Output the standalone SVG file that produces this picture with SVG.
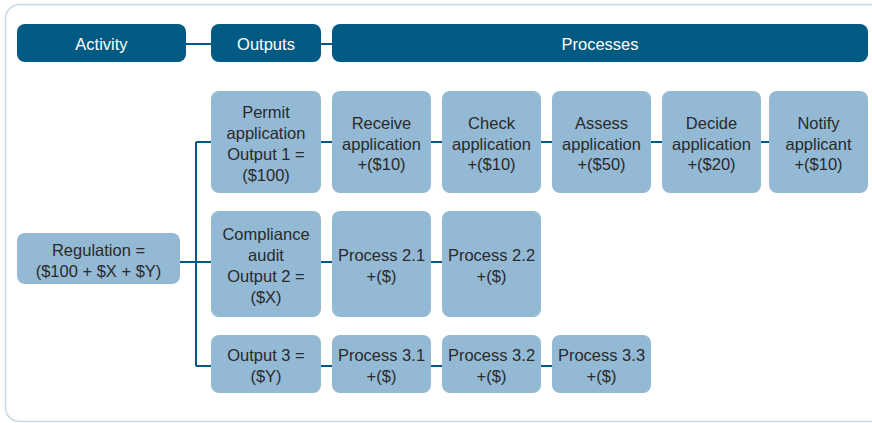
<svg xmlns="http://www.w3.org/2000/svg" width="872" height="423" viewBox="0 0 872 423">
<style>
.hdr{fill:#005a82}
.box{fill:#93b9d4}
.ht{font-family:"Liberation Sans",Arial,sans-serif;font-size:16.5px;fill:#ffffff;text-anchor:middle}
.t{font-family:"Liberation Sans",Arial,sans-serif;font-size:16.5px;fill:#2a2a2a;text-anchor:middle}
.ln{stroke:#005a82;stroke-width:2;fill:none}
</style>
<rect x="5.5" y="4.5" width="890" height="417" rx="14" fill="#ffffff" stroke="#c8dbea" stroke-width="1.5"/>
<g id="connectors">
<path class="ln" d="M186 44H211M321 44H332"/>
<path class="ln" d="M180 262H211M196 142V366M196 142H211M196 366H211"/>
<path class="ln" d="M321 142H332M431 142H442M541 142H552M651 142H662M761 142H769"/>
<path class="ln" d="M321 262H332M431 262H442"/>
<path class="ln" d="M321 366H332M431 366H442M541 366H552"/>
</g>
<g id="hdr-activity"><rect class="hdr" x="17" y="24" width="169" height="38" rx="8"/><text class="ht" x="101.5" y="50">Activity</text></g>
<g id="hdr-outputs"><rect class="hdr" x="211" y="24" width="110" height="38" rx="8"/><text class="ht" x="266" y="50">Outputs</text></g>
<g id="hdr-processes"><rect class="hdr" x="332" y="24" width="536" height="38" rx="8"/><text class="ht" x="600" y="50">Processes</text></g>
<g id="regulation"><rect class="box" x="17" y="233" width="163" height="51" rx="8"/><text class="t" x="98.5" y="256">Regulation =</text><text class="t" x="98.5" y="277">($100 + $X + $Y)</text></g>
<g id="output1"><rect class="box" x="211" y="91" width="110" height="102" rx="8"/><text class="t" x="266" y="118">Permit</text><text class="t" x="266" y="139">application</text><text class="t" x="266" y="160">Output 1 =</text><text class="t" x="266" y="181">($100)</text></g>
<g id="receive"><rect class="box" x="332" y="91" width="99" height="102" rx="8"/><text class="t" x="381.5" y="129">Receive</text><text class="t" x="381.5" y="150">application</text><text class="t" x="381.5" y="170">+($10)</text></g>
<g id="check"><rect class="box" x="442" y="91" width="99" height="102" rx="8"/><text class="t" x="491.5" y="129">Check</text><text class="t" x="491.5" y="150">application</text><text class="t" x="491.5" y="170">+($10)</text></g>
<g id="assess"><rect class="box" x="552" y="91" width="99" height="102" rx="8"/><text class="t" x="601.5" y="129">Assess</text><text class="t" x="601.5" y="150">application</text><text class="t" x="601.5" y="170">+($50)</text></g>
<g id="decide"><rect class="box" x="662" y="91" width="99" height="102" rx="8"/><text class="t" x="711.5" y="129">Decide</text><text class="t" x="711.5" y="150">application</text><text class="t" x="711.5" y="170">+($20)</text></g>
<g id="notify"><rect class="box" x="769" y="91" width="99" height="102" rx="8"/><text class="t" x="818.5" y="129">Notify</text><text class="t" x="818.5" y="150">applicant</text><text class="t" x="818.5" y="170">+($10)</text></g>
<g id="output2"><rect class="box" x="211" y="211" width="110" height="106" rx="8"/><text class="t" x="266" y="240">Compliance</text><text class="t" x="266" y="261">audit</text><text class="t" x="266" y="282">Output 2 =</text><text class="t" x="266" y="303">($X)</text></g>
<g id="p21"><rect class="box" x="332" y="211" width="99" height="106" rx="8"/><text class="t" x="381.5" y="261">Process 2.1</text><text class="t" x="381.5" y="282">+($)</text></g>
<g id="p22"><rect class="box" x="442" y="211" width="99" height="106" rx="8"/><text class="t" x="491.5" y="261">Process 2.2</text><text class="t" x="491.5" y="282">+($)</text></g>
<g id="output3"><rect class="box" x="211" y="335" width="110" height="58" rx="8"/><text class="t" x="266" y="361">Output 3 =</text><text class="t" x="266" y="382">($Y)</text></g>
<g id="p31"><rect class="box" x="332" y="335" width="99" height="58" rx="8"/><text class="t" x="381.5" y="361">Process 3.1</text><text class="t" x="381.5" y="382">+($)</text></g>
<g id="p32"><rect class="box" x="442" y="335" width="99" height="58" rx="8"/><text class="t" x="491.5" y="361">Process 3.2</text><text class="t" x="491.5" y="382">+($)</text></g>
<g id="p33"><rect class="box" x="552" y="335" width="99" height="58" rx="8"/><text class="t" x="601.5" y="361">Process 3.3</text><text class="t" x="601.5" y="382">+($)</text></g>
</svg>
